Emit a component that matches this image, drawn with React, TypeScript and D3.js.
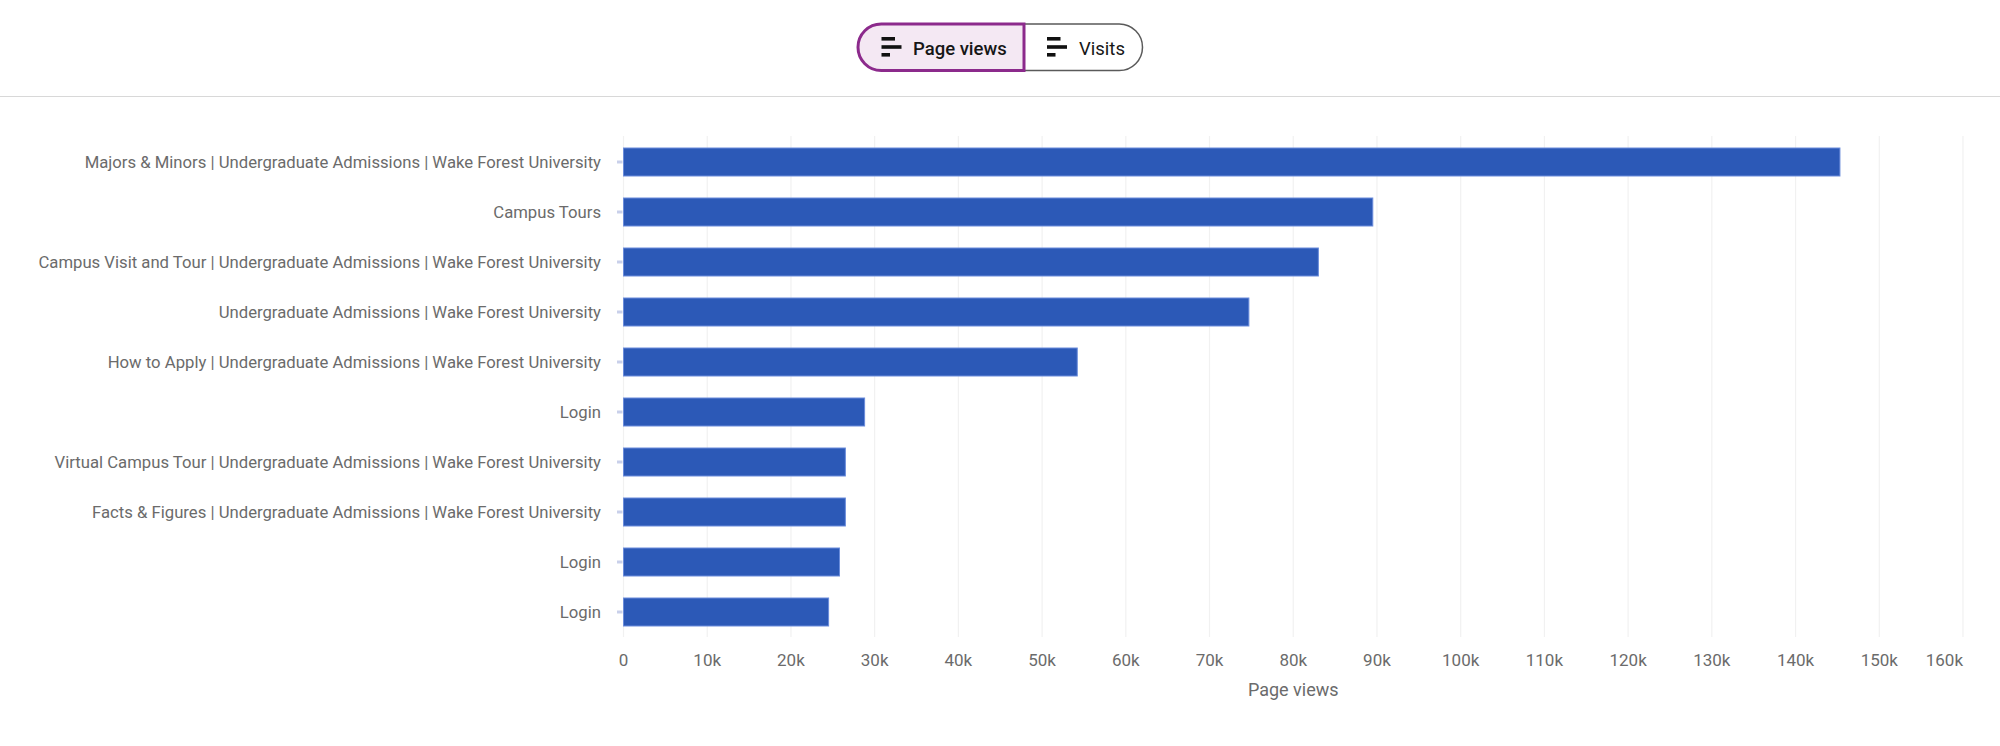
import React from "react";
import * as d3 from "d3";

const categories: string[] = [
  "Majors & Minors | Undergraduate Admissions | Wake Forest University",
  "Campus Tours",
  "Campus Visit and Tour | Undergraduate Admissions | Wake Forest University",
  "Undergraduate Admissions | Wake Forest University",
  "How to Apply | Undergraduate Admissions | Wake Forest University",
  "Login",
  "Virtual Campus Tour | Undergraduate Admissions | Wake Forest University",
  "Facts & Figures | Undergraduate Admissions | Wake Forest University",
  "Login",
  "Login",
];

const pageViews: number[] = [145300, 89500, 83000, 74700, 54200, 28800, 26500, 26500, 25800, 24500];

const xTicks: number[] = [0, 10000, 20000, 30000, 40000, 50000, 60000, 70000, 80000, 90000, 100000, 110000, 120000, 130000, 140000, 150000, 160000];
const xTickLabels: string[] = ["0", "10k", "20k", "30k", "40k", "50k", "60k", "70k", "80k", "90k", "100k", "110k", "120k", "130k", "140k", "150k", "160k"];

const toggleLabels: string[] = ["Page views", "Visits"];
const axisTitle = "Page views";

const W = 2000;
const H = 746;
const FONT = "Roboto, 'Open Sans', sans-serif";

export default function App() {
  const x = d3.scaleLinear().domain([0, 160000]).range([623.5, 1963]);
  const y = d3
    .scaleBand<string>()
    .domain(categories.map((_, i) => String(i)))
    .range([137, 637])
    .paddingInner(0.44)
    .paddingOuter(0.22);
  const bw = y.bandwidth();

  // toggle geometry
  const tTop = 24;
  const tBot = 70.5;
  const tL = 858;
  const tMid = 1024;
  const tR = 1142.5;
  const r = (tBot - tTop) / 2;
  const leftPath = d3.path();
  leftPath.moveTo(tMid, tTop);
  leftPath.lineTo(tL + r, tTop);
  leftPath.arc(tL + r, tTop + r, r, -Math.PI / 2, Math.PI / 2, true);
  leftPath.lineTo(tMid, tBot);
  leftPath.closePath();
  const rightPath = d3.path();
  rightPath.moveTo(tMid, tTop);
  rightPath.lineTo(tR - r, tTop);
  rightPath.arc(tR - r, tTop + r, r, -Math.PI / 2, Math.PI / 2, false);
  rightPath.lineTo(tMid, tBot);
  rightPath.closePath();

  const icon = (x0: number, y0: number) => (
    <g>
      <rect x={x0} y={y0} width={13.5} height={3.6} fill="#111" />
      <rect x={x0} y={y0 + 8.2} width={20} height={3.6} fill="#111" />
      <rect x={x0} y={y0 + 16} width={8.5} height={3.6} fill="#111" />
    </g>
  );

  return (
    <svg
      width={W}
      height={H}
      style={{ position: "absolute", left: 0, top: 0, background: "#fff" }}
      fontFamily={FONT}
    >
      <rect x={0} y={0} width={W} height={H} fill="#fff" />
      {/* toggle */}
      <path d={rightPath.toString()} fill="#fff" stroke="#5a5a5a" strokeWidth={1.5} />
      <path d={leftPath.toString()} fill="#f4e8f3" stroke="#8c2a8c" strokeWidth={3} />
      {icon(881.5, 37)}
      <text x={913} y={54.5} fontSize={18.5} fontWeight={500} fill="#161616">
        {toggleLabels[0]}
      </text>
      {icon(1047, 37)}
      <text x={1079} y={54.5} fontSize={18.5} fontWeight={400} fill="#161616">
        {toggleLabels[1]}
      </text>
      <line x1={0} x2={W} y1={96.5} y2={96.5} stroke="#d8d8d8" strokeWidth={1.2} />

      {/* grid */}
      {xTicks.map((t) => (
        <line key={"g" + t} x1={x(t)} x2={x(t)} y1={136} y2={637} stroke="#f1f1f1" strokeWidth={1.2} />
      ))}

      {/* bars */}
      {categories.map((c, i) => {
        const yy = y(String(i)) as number;
        return (
          <g key={"b" + i}>
            <line x1={617} x2={622.5} y1={yy + bw / 2} y2={yy + bw / 2} stroke="#c9d0ea" strokeWidth={3} />
            <rect
              x={x(0)}
              y={yy}
              width={x(pageViews[i]) - x(0)}
              height={bw}
              fill="#2c59b7"
              stroke="#6a8cdb"
              strokeWidth={1}
            />
            <text
              x={601}
              y={yy + bw / 2}
              dy="0.35em"
              textAnchor="end"
              fontSize={16.7}
              fill="#6b6b6b"
            >
              {c}
            </text>
          </g>
        );
      })}

      {/* x tick labels */}
      {xTicks.map((t, i) => {
        const last = i === xTicks.length - 1;
        return (
          <text
            key={"t" + t}
            x={x(t)}
            y={666}
            textAnchor={last ? "end" : "middle"}
            fontSize={17}
            fill="#6b6b6b"
          >
            {xTickLabels[i]}
          </text>
        );
      })}
      <text x={(x(0) + x(160000)) / 2} y={696} textAnchor="middle" fontSize={18} fill="#6b6b6b">
        {axisTitle}
      </text>
    </svg>
  );
}
